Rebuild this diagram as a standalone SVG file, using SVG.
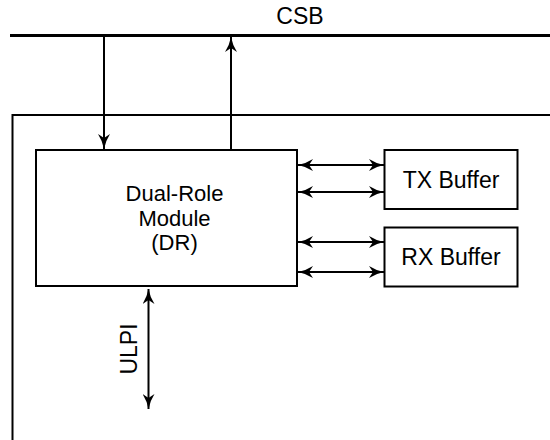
<svg xmlns="http://www.w3.org/2000/svg" width="550" height="440" viewBox="0 0 550 440">
<style>
.box{fill:#fff;stroke:#000;stroke-width:2}
.ln{stroke:#000;stroke-width:2;fill:none}
text{font-family:"Liberation Sans",Arial,sans-serif;font-size:23px;fill:#000;text-anchor:middle}
text.ml{font-size:22px}
</style>
<defs>
<marker id="ah" viewBox="0 0 15 12" refX="15" refY="6" markerWidth="15" markerHeight="12" markerUnits="userSpaceOnUse" orient="auto-start-reverse">
<path d="M0,0 Q7,4.5 15,6 Q7,7.5 0,12 L4,6 Z" fill="#000"/>
</marker>
</defs>
<g id="csb">
<line x1="10" y1="35.5" x2="550" y2="35.5" stroke="#000" stroke-width="3"/>
<text x="300" y="24">CSB</text>
</g>
<g id="outer">
<path class="ln" d="M12.5,440 V115 H550"/>
</g>
<g id="dr">
<rect class="box" x="36" y="150" width="261" height="136"/>
<text class="ml" x="174.5" y="201">Dual-Role</text>
<text class="ml" x="174.5" y="225.5">Module</text>
<text class="ml" x="174.5" y="250">(DR)</text>
</g>
<g id="tx">
<rect class="box" x="384.5" y="150" width="133" height="59"/>
<text x="451" y="188">TX Buffer</text>
</g>
<g id="rx">
<rect class="box" x="384.5" y="227.5" width="133" height="59"/>
<text x="451" y="265">RX Buffer</text>
</g>
<g id="connectors">
<line class="ln" x1="104" y1="37" x2="104" y2="149" marker-end="url(#ah)"/>
<line class="ln" x1="231" y1="150" x2="231" y2="37" marker-end="url(#ah)"/>
<line class="ln" x1="298" y1="165" x2="384" y2="165" marker-start="url(#ah)" marker-end="url(#ah)"/>
<line class="ln" x1="298" y1="192" x2="384" y2="192" marker-start="url(#ah)" marker-end="url(#ah)"/>
<line class="ln" x1="298" y1="242" x2="384" y2="242" marker-start="url(#ah)" marker-end="url(#ah)"/>
<line class="ln" x1="298" y1="272" x2="384" y2="272" marker-start="url(#ah)" marker-end="url(#ah)"/>
<line class="ln" x1="148.5" y1="289" x2="148.5" y2="409" marker-start="url(#ah)" marker-end="url(#ah)"/>
<text x="0" y="0" transform="translate(137,349) rotate(-90)">ULPI</text>
</g>
</svg>
